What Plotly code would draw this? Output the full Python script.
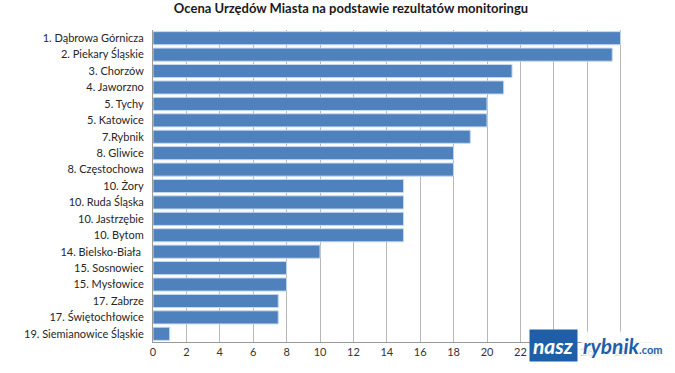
import plotly.graph_objects as go

categories = ["1. Dąbrowa Górnicza", "2. Piekary Śląskie", "3. Chorzów", "4. Jaworzno",
              "5. Tychy", "5. Katowice", "7.Rybnik", "8. Gliwice", "8. Częstochowa",
              "10. Żory", "10. Ruda Śląska", "10. Jastrzębie", "10. Bytom",
              "14. Bielsko-Biała ", "15. Sosnowiec", "15. Mysłowice", "17. Zabrze",
              "17. Świętochłowice", "19. Siemianowice Śląskie"]
values = [28, 27.5, 21.5, 21, 20, 20, 19, 18, 18, 15, 15, 15, 15, 10, 8, 8, 7.5, 7.5, 1]
x_ticks = list(range(0, 31, 2))
title = "Ocena Urzędów Miasta na podstawie rezultatów monitoringu"

fig = go.Figure(go.Bar(
    x=values, y=categories, orientation="h",
    marker=dict(color="#4f81bd", line=dict(color="#c6d9f1", width=1)),
    width=0.8,
))

fig.update_layout(
    width=675, height=373,
    margin=dict(l=153, r=21, t=30, b=31, autoexpand=False),
    paper_bgcolor="white", plot_bgcolor="white",
    font=dict(family="Lato, Open Sans, sans-serif", size=11, color="#262626"),
    title=dict(text="<b>" + title + "</b>", x=0.52, xanchor="center", y=0.99, yanchor="top",
               font=dict(size=13, color="#1a1a1a", family="Lato, Open Sans, sans-serif")),
    showlegend=False,
    bargap=0.2,
)
fig.update_xaxes(range=[0, 30], tickvals=x_ticks, showgrid=True, gridcolor="#b8b8b8", gridwidth=1,
                 showline=True, linecolor="#9a9a9a", zeroline=False, ticks="", ticklen=0,
                 automargin=False, tickfont=dict(size=11, color="#333333"))
fig.update_yaxes(categoryorder="array", categoryarray=categories, autorange="reversed",
                 showline=True, linecolor="#9a9a9a", showgrid=False, ticks="outside", ticklen=6,
                 tickcolor="rgba(0,0,0,0)", automargin=False,
                 tickfont=dict(size=11, color="#262626"))

# watermark logo (approximation)
fig.add_annotation(xref="paper", yref="paper", x=0.75, y=-0.01, xanchor="left", yanchor="middle",
                   text="<b><i>nasz</i></b>", showarrow=False,
                   font=dict(size=21, color="white", family="Lato, sans-serif"),
                   bgcolor="#1f5fa8", borderpad=3)
fig.add_annotation(xref="paper", yref="paper", x=0.855, y=-0.01, xanchor="left", yanchor="middle",
                   text="<b><i>rybnik</i></b><span style='font-size:11px'><b>.com</b></span>", showarrow=False,
                   font=dict(size=21, color="#1f5fa8", family="Lato, sans-serif"),
                   bgcolor="rgba(255,255,255,0.85)")

fig.write_html("out.html", config={"displayModeBar": False},
               post_script="document.body.style.margin='0';")
